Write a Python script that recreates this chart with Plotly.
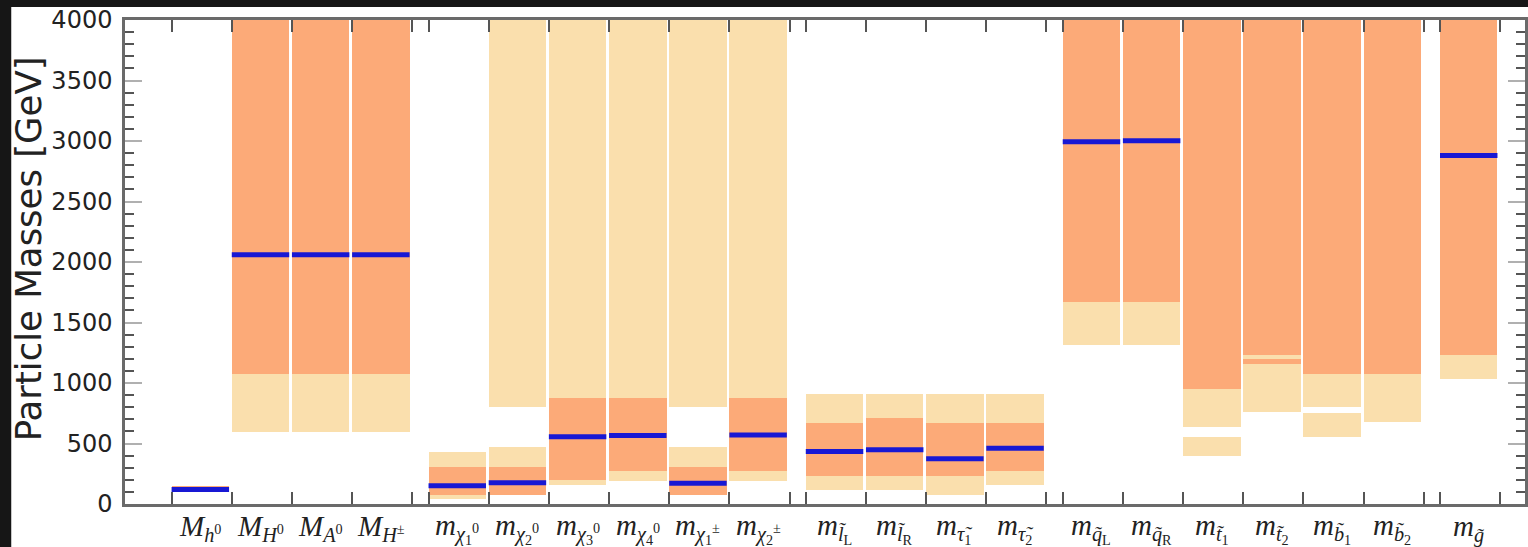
import plotly.graph_objects as go

# ---------------- data ----------------
labels = [
    "<i>M</i><sub><i>h</i><sup>0</sup></sub>",
    "<i>M</i><sub><i>H</i><sup>0</sup></sub>",
    "<i>M</i><sub><i>A</i><sup>0</sup></sub>",
    "<i>M</i><sub><i>H</i><sup>±</sup></sub>",
    "<i>m</i><sub><i>χ</i><sub>1</sub><sup>0</sup></sub>",
    "<i>m</i><sub><i>χ</i><sub>2</sub><sup>0</sup></sub>",
    "<i>m</i><sub><i>χ</i><sub>3</sub><sup>0</sup></sub>",
    "<i>m</i><sub><i>χ</i><sub>4</sub><sup>0</sup></sub>",
    "<i>m</i><sub><i>χ</i><sub>1</sub><sup>±</sup></sub>",
    "<i>m</i><sub><i>χ</i><sub>2</sub><sup>±</sup></sub>",
    "<i>m</i><sub><i>l̃</i><sub>L</sub></sub>",
    "<i>m</i><sub><i>l̃</i><sub>R</sub></sub>",
    "<i>m</i><sub><i>τ̃</i><sub>1</sub></sub>",
    "<i>m</i><sub><i>τ̃</i><sub>2</sub></sub>",
    "<i>m</i><sub><i>q̃</i><sub>L</sub></sub>",
    "<i>m</i><sub><i>q̃</i><sub>R</sub></sub>",
    "<i>m</i><sub><i>t̃</i><sub>1</sub></sub>",
    "<i>m</i><sub><i>t̃</i><sub>2</sub></sub>",
    "<i>m</i><sub><i>b̃</i><sub>1</sub></sub>",
    "<i>m</i><sub><i>b̃</i><sub>2</sub></sub>",
    "<i>m</i><sub><i>g̃</i></sub>",
]
group_sizes = [4, 6, 4, 6, 1]

# best-fit (central) masses in GeV (None = not shown)
central = [120, 2060, 2060, 2060, 151, 176, 556, 567, 171, 570,
           433, 449, 374, 460, 2994, 3003, None, None, None, None, 2880]

# 1-sigma (dark) ranges, GeV
orange_ranges = [
    [(108, 147)],
    [(1074, 4000)], [(1074, 4000)], [(1074, 4000)],
    [(74, 308)], [(74, 308)], [(198, 873)], [(273, 873)], [(74, 308)], [(273, 873)],
    [(231, 672)], [(231, 713)], [(231, 672)], [(273, 672)],
    [(1672, 4000)], [(1672, 4000)], [(950, 4000)], [(1231, 4000), (1157, 1196)],
    [(1074, 4000)], [(1074, 4000)],
    [(1231, 4000)],
]
# 2-sigma (light) ranges, GeV
light_ranges = [
    [],
    [(597, 1074)], [(597, 1074)], [(597, 1074)],
    [(39, 432)], [(74, 469), (799, 4000)], [(157, 4000)], [(193, 4000)],
    [(74, 469), (799, 4000)], [(193, 4000)],
    [(116, 909)], [(116, 909)], [(74, 909)], [(154, 909)],
    [(1314, 1672)], [(1314, 1672)], [(634, 950), (397, 551)], [(758, 1231)],
    [(799, 1074), (556, 749)], [(675, 1074)],
    [(1036, 1231)],
]

y_ticks = [0, 500, 1000, 1500, 2000, 2500, 3000, 3500, 4000]

# ---------------- styling ----------------
ORANGE = "#fcaa78"
LIGHT = "#fadfad"
BLUE = "#1818d4"
GROUP_GAP = 0.27
BAR_W = 0.955

lefts = []
pos = 0.0
for g in group_sizes:
    for k in range(g):
        lefts.append(pos + k)
    pos += g + GROUP_GAP
centers = [l + BAR_W / 2 for l in lefts]

fig = go.Figure()

def add_segments(ranges, color):
    xs, bases, hs = [], [], []
    for c, segs in zip(centers, ranges):
        for lo, hi in segs:
            xs.append(c)
            bases.append(lo)
            hs.append(hi - lo)
    fig.add_trace(go.Bar(x=xs, y=hs, base=bases, width=BAR_W,
                         marker=dict(color=color, line=dict(width=0)),
                         showlegend=False, hoverinfo="skip"))

add_segments(light_ranges, LIGHT)
add_segments(orange_ranges, ORANGE)

lx, ly = [], []
for l, c in zip(lefts, central):
    if c is None:
        continue
    lx += [l, l + BAR_W, None]
    ly += [c, c, None]
fig.add_trace(go.Scatter(x=lx, y=ly, mode="lines",
                         line=dict(color=BLUE, width=5),
                         showlegend=False, hoverinfo="skip"))

edge_ticks = sorted(set([round(l, 4) for l in lefts] + [round(l + 1, 4) for l in lefts]))

W, H = 1528, 547
L, R, T, B = 125, 0, 20, 43
PW, PH = W - L - R, H - T - B
px_per_unit = 60.3
x0 = -(171.7 - L) / px_per_unit
x1 = x0 + PW / px_per_unit

fig.update_layout(
    width=W, height=H,
    margin=dict(l=L, r=R, t=T, b=B, pad=0),
    paper_bgcolor="#161616",
    plot_bgcolor="white",
    barmode="overlay",
    bargap=0,
    xaxis=dict(range=[x0, x1], tickvals=edge_ticks, showticklabels=False,
               ticks="inside", ticklen=12, tickwidth=1.5, tickcolor="#555",
               showline=True, linecolor="#6a6a6a", linewidth=2.5, mirror="ticks",
               showgrid=False, zeroline=False),
    yaxis=dict(range=[0, 4000], tickvals=y_ticks, ticks="inside", ticklen=17,
               tickwidth=2, tickcolor="#b0b0b0", ticklabelstandoff=5,
               minor=dict(dtick=100, ticks="inside", ticklen=9, tickwidth=1.5,
                          tickcolor="#555", showgrid=False),
               showline=True, linecolor="#6a6a6a", linewidth=2.5, mirror="ticks",
               showgrid=False, zeroline=False,
               tickfont=dict(family="DejaVu Sans", size=24, color="#222")),
)

# white page area inside the dark frame
fig.add_shape(type="rect", xref="paper", yref="paper", layer="below",
              x0=(11 - L) / PW, x1=(W + 5 - L) / PW,
              y0=-(B + 5) / PH, y1=(H - B - 7) / PH,
              fillcolor="white", line=dict(width=0))

# y title
fig.add_annotation(text="Particle Masses [GeV]", textangle=-90,
                   xref="paper", yref="paper",
                   x=(28 - L) / PW, y=(H - B - 249) / PH,
                   xanchor="center", yanchor="middle", showarrow=False,
                   font=dict(family="DejaVu Sans", size=35.5, color="#222"))

# category labels
for c, t in zip(centers, labels):
    fig.add_annotation(text=t, x=c, xref="x", yref="paper",
                       y=-(528 - (H - B)) / PH,
                       xanchor="center", yanchor="middle", showarrow=False,
                       font=dict(family="Liberation Serif", size=29, color="#222"))

fig.write_html("out.html", config={"displayModeBar": False},
               post_script="document.body.style.margin='0';")
